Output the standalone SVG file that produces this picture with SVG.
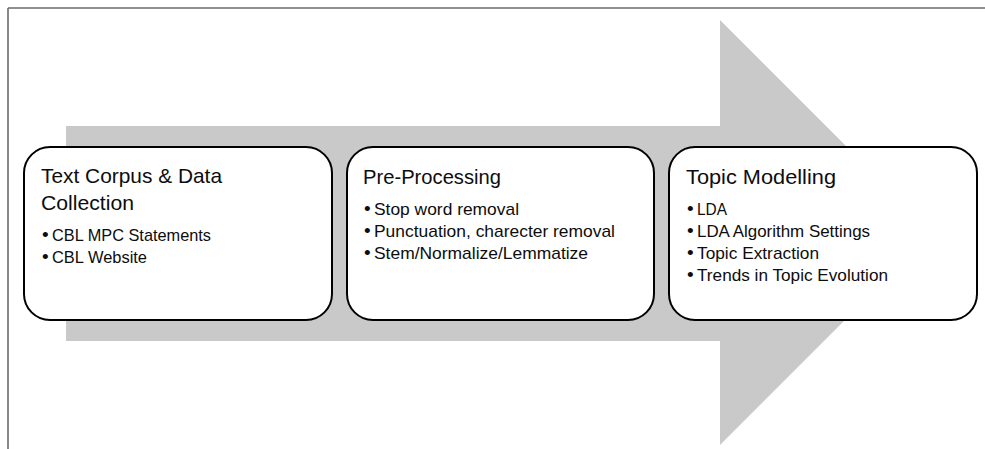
<svg xmlns="http://www.w3.org/2000/svg" width="985" height="449" viewBox="0 0 985 449">
  <style>
    .frame { stroke: #6b6b6b; stroke-width: 1.6; fill: none; }
    .box { fill: #ffffff; stroke: #000000; stroke-width: 2; }
    .title { font-family: "Liberation Sans", Arial, sans-serif; font-size: 21px; fill: #0d0d0d; }
    .item { font-family: "Liberation Sans", Arial, sans-serif; font-size: 17px; fill: #0d0d0d; }
    .dot { font-size: 19px; }
  </style>

  <!-- page frame -->
  <line class="frame" x1="8" y1="8" x2="985" y2="8"/>
  <line class="frame" x1="8" y1="8" x2="8" y2="449"/>

  <!-- background flow arrow -->
  <polygon id="flow-arrow" fill="#c9c9c9"
           points="66,126 720,126 720,20 932.5,232.5 720,445 720,341 66,341"/>

  <g id="connectors"></g>

  <g id="node-collection">
    <rect class="box" x="24" y="147" width="308" height="173" rx="26" ry="26"/>
    <text class="title" x="41" y="183" textLength="181" lengthAdjust="spacingAndGlyphs">Text Corpus &amp; Data</text>
    <text class="title" x="41" y="210" textLength="93" lengthAdjust="spacingAndGlyphs">Collection</text>
    <text class="item" y="241"><tspan class="dot" x="42">•</tspan><tspan x="52" textLength="159" lengthAdjust="spacingAndGlyphs">CBL MPC Statements</tspan></text>
    <text class="item" y="263"><tspan class="dot" x="42">•</tspan><tspan x="52" textLength="95" lengthAdjust="spacingAndGlyphs">CBL Website</tspan></text>
  </g>

  <g id="node-preprocessing">
    <rect class="box" x="347" y="147" width="307" height="173" rx="26" ry="26"/>
    <text class="title" x="363" y="184" textLength="138" lengthAdjust="spacingAndGlyphs">Pre-Processing</text>
    <text class="item" y="215"><tspan class="dot" x="364">•</tspan><tspan x="374" textLength="145" lengthAdjust="spacingAndGlyphs">Stop word removal</tspan></text>
    <text class="item" y="237"><tspan class="dot" x="364">•</tspan><tspan x="374" textLength="241" lengthAdjust="spacingAndGlyphs">Punctuation, charecter removal</tspan></text>
    <text class="item" y="259"><tspan class="dot" x="364">•</tspan><tspan x="374" textLength="214" lengthAdjust="spacingAndGlyphs">Stem/Normalize/Lemmatize</tspan></text>
  </g>

  <g id="node-topic-modelling">
    <rect class="box" x="669" y="147" width="308" height="173" rx="26" ry="26"/>
    <text class="title" x="686" y="184" textLength="150" lengthAdjust="spacingAndGlyphs">Topic Modelling</text>
    <text class="item" y="215"><tspan class="dot" x="687">•</tspan><tspan x="697" textLength="30" lengthAdjust="spacingAndGlyphs">LDA</tspan></text>
    <text class="item" y="237"><tspan class="dot" x="687">•</tspan><tspan x="697" textLength="173" lengthAdjust="spacingAndGlyphs">LDA Algorithm Settings</tspan></text>
    <text class="item" y="259"><tspan class="dot" x="687">•</tspan><tspan x="697" textLength="122" lengthAdjust="spacingAndGlyphs">Topic Extraction</tspan></text>
    <text class="item" y="281"><tspan class="dot" x="687">•</tspan><tspan x="697" textLength="191" lengthAdjust="spacingAndGlyphs">Trends in Topic Evolution</tspan></text>
  </g>
</svg>
